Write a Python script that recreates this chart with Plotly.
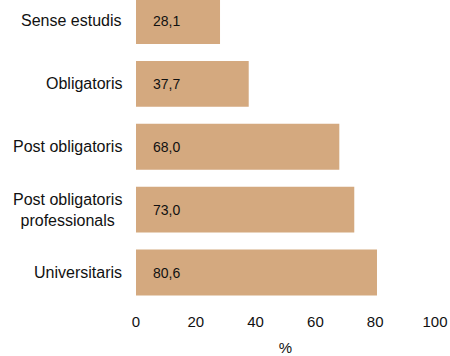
import plotly.graph_objects as go

categories = ["Universitaris", "Post obligatoris<br>professionals", "Post obligatoris", "Obligatoris", "Sense estudis"]
values = [80.6, 73.0, 68.0, 37.7, 28.1]
value_labels = ["80,6", "73,0", "68,0", "37,7", "28,1"]
x_ticks = [0, 20, 40, 60, 80, 100]

BAR_COLOR = "#D4A97F"
FONT = "Liberation Sans, Arial, sans-serif"

fig = go.Figure()
fig.add_trace(go.Bar(
    x=values, y=list(range(len(categories))), orientation="h",
    marker=dict(color=BAR_COLOR, line=dict(width=0)),
    hoverinfo="skip",
))

annotations = []
for i, (cat, lab) in enumerate(zip(categories, value_labels)):
    annotations.append(dict(x=0, y=i, xref="x", yref="y", text=lab, showarrow=False,
                            xanchor="left", xshift=15, font=dict(family=FONT, size=14, color="#111")))
    annotations.append(dict(x=0, y=i, xref="x", yref="y", text=cat, showarrow=False,
                            xanchor="right", xshift=-12, align="center",
                            font=dict(family=FONT, size=16, color="#111")))

fig.update_layout(
    width=450, height=356,
    margin=dict(l=136, r=15, t=0, b=52),
    plot_bgcolor="white", paper_bgcolor="white",
    bargap=0.27, showlegend=False,
    annotations=annotations,
    xaxis=dict(range=[0, 100], tickvals=x_ticks, ticktext=[str(v) for v in x_ticks],
               showgrid=False, zeroline=False, showline=False,
               ticks="outside", ticklen=4, tickcolor="rgba(0,0,0,0)",
               tickfont=dict(family=FONT, size=15, color="#111"),
               title=dict(text="%", font=dict(family=FONT, size=15, color="#111"), standoff=14)),
    yaxis=dict(range=[-0.5, 4.333], showticklabels=False, showgrid=False,
               zeroline=False, showline=False, ticks=""),
)

fig.write_html("out.html", config={"displayModeBar": False, "staticPlot": True},
               post_script="document.body.style.margin='0';document.body.style.overflow='hidden';")
